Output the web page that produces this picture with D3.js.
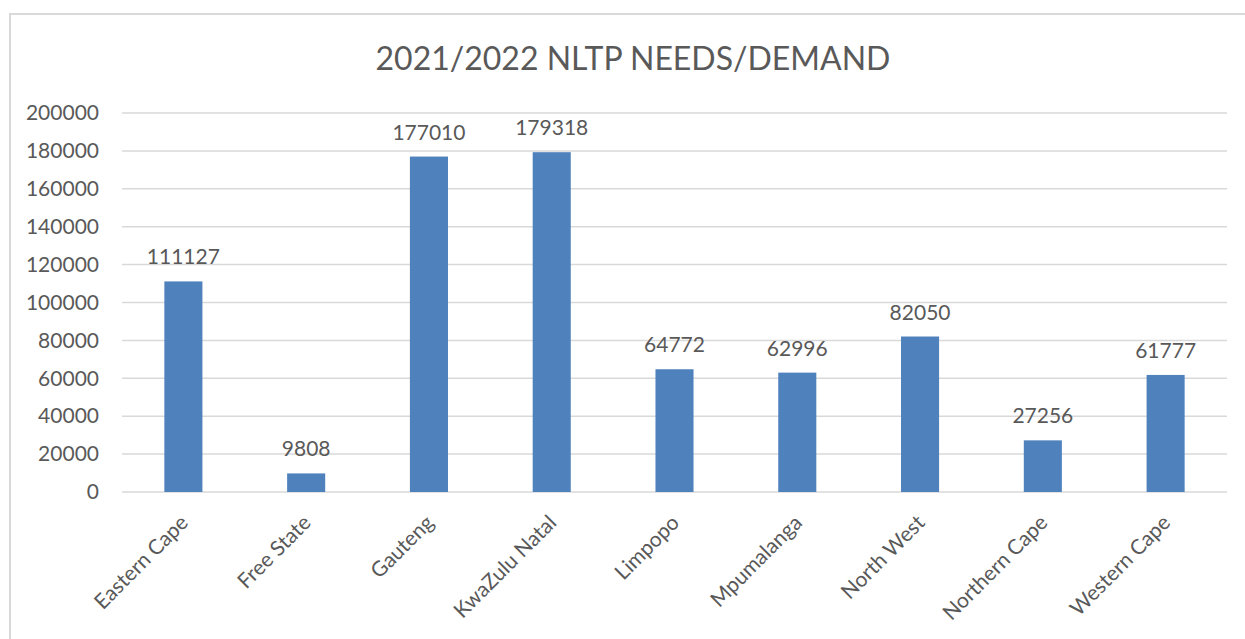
<!DOCTYPE html>
<html>
<head>
<meta charset="utf-8">
<script src="https://cdn.jsdelivr.net/npm/d3@7"></script>
<style>
  body { margin: 0; background: #fff; }
  text { font-family: Lato, "Open Sans", sans-serif; fill: #595959; }
</style>
</head>
<body>
<div id="chart"></div>
<script>
var categories = ["Eastern Cape", "Free State", "Gauteng", "KwaZulu Natal", "Limpopo",
  "Mpumalanga", "North West", "Northern Cape", "Western Cape"];
var needs = [111127, 9808, 177010, 179318, 64772, 62996, 82050, 27256, 61777];
var yTicks = [0, 20000, 40000, 60000, 80000, 100000, 120000, 140000, 160000, 180000, 200000];
var title = "2021/2022 NLTP NEEDS/DEMAND";

var W = 1245, H = 639;
var plotLeft = 122, plotRight = 1227, plotTop = 113, plotBottom = 492;

var svg = d3.select("#chart").append("svg")
  .attr("width", W)
  .attr("height", H);

// chart frame (cut off at right/bottom like the screenshot)
svg.append("rect")
  .attr("x", 10).attr("y", 14)
  .attr("width", 1260).attr("height", 660)
  .attr("fill", "none")
  .attr("stroke", "#d9d9d9")
  .attr("stroke-width", 2);

var x = d3.scaleBand()
  .domain(categories)
  .range([plotLeft, plotRight])
  .paddingInner(0.69)
  .paddingOuter(0.345);

var y = d3.scaleLinear()
  .domain([0, 200000])
  .range([plotBottom, plotTop]);

// gridlines
svg.append("g")
  .selectAll("line")
  .data(yTicks)
  .enter().append("line")
  .attr("x1", plotLeft).attr("x2", plotRight)
  .attr("y1", function(d){ return y(d); })
  .attr("y2", function(d){ return y(d); })
  .attr("stroke", "#d9d9d9")
  .attr("stroke-width", 1.5);

// y axis labels
var yAxis = d3.axisLeft(y)
  .tickValues(yTicks)
  .tickFormat(function(d){ return d; })
  .tickSize(0)
  .tickPadding(23);

var yg = svg.append("g")
  .attr("transform", "translate(" + plotLeft + ",0)")
  .call(yAxis);
yg.select(".domain").remove();
yg.selectAll("text")
  .style("font-size", "21px")
  .style("font-family", "Lato, sans-serif")
  .attr("fill", "#595959");

// bars
svg.append("g")
  .selectAll("rect")
  .data(needs)
  .enter().append("rect")
  .attr("x", function(d, i){ return x(categories[i]); })
  .attr("y", function(d){ return y(d); })
  .attr("width", x.bandwidth())
  .attr("height", function(d){ return y(0) - y(d); })
  .attr("fill", "#4f81bd");

// value labels
svg.append("g")
  .selectAll("text")
  .data(needs)
  .enter().append("text")
  .attr("x", function(d, i){ return x(categories[i]) + x.bandwidth() / 2; })
  .attr("y", function(d){ return y(d) - 17; })
  .attr("text-anchor", "middle")
  .style("font-size", "21px")
  .text(function(d){ return d; });

// category labels, rotated
svg.append("g")
  .selectAll("text")
  .data(categories)
  .enter().append("text")
  .attr("transform", function(d){
    var cx = x(d) + x.bandwidth() / 2 + 6;
    return "translate(" + cx + "," + 524 + ") rotate(-45)";
  })
  .attr("text-anchor", "end")
  .style("font-size", "21px")
  .text(function(d){ return d; });

// title
svg.append("text")
  .attr("x", 633)
  .attr("y", 70)
  .attr("text-anchor", "middle")
  .style("font-size", "32px")
  .text(title);
</script>
</body>
</html>
